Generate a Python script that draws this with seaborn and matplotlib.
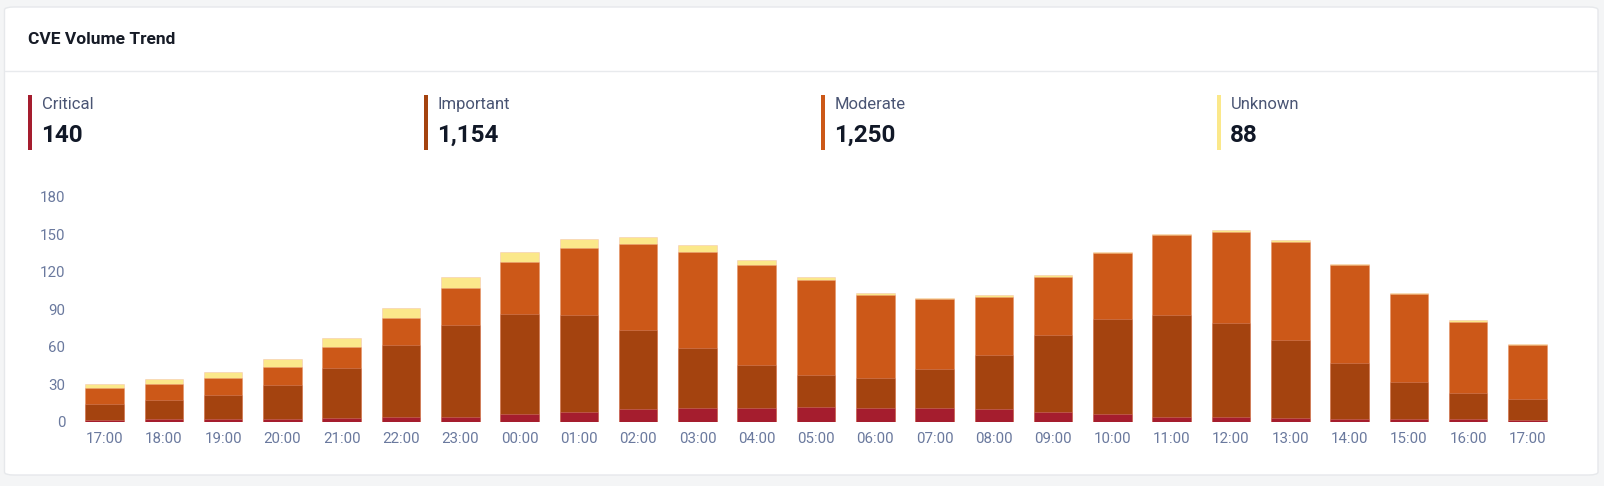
import numpy as np
import pandas as pd
import matplotlib
matplotlib.use("Agg")
import matplotlib.pyplot as plt
from matplotlib.patches import FancyBboxPatch, Rectangle
from matplotlib.lines import Line2D
import seaborn as sns

# ---- data ----
hours = ["17:00", "18:00", "19:00", "20:00", "21:00", "22:00", "23:00", "00:00",
         "01:00", "02:00", "03:00", "04:00", "05:00", "06:00", "07:00", "08:00",
         "09:00", "10:00", "11:00", "12:00", "13:00", "14:00", "15:00", "16:00", "17:00"]
critical  = [1, 2, 2, 2, 3, 4, 4, 6, 8, 10, 11, 11, 12, 11, 11, 10, 8, 6, 4, 4, 3, 2, 2, 2, 1]
important = [13, 15, 19, 27, 40, 57, 73, 80, 77, 63, 48, 34, 25, 24, 31, 43, 61, 76, 81, 75, 62, 45, 30, 21, 17]
moderate  = [13, 13, 14, 15, 17, 22, 30, 42, 54, 69, 77, 80, 76, 66, 56, 47, 47, 53, 64, 73, 79, 78, 70, 57, 43]
unknown   = [3, 4, 5, 6, 7, 8, 9, 8, 7, 6, 5, 4, 3, 2, 1, 1, 1, 1, 1, 1, 1, 1, 1, 1, 1]

series_names = ["Critical", "Important", "Moderate", "Unknown"]
series_totals = ["140", "1,154", "1,250", "88"]
series_colors = ["#A51D2E", "#A4430F", "#CC5818", "#FBE88A"]
y_ticks = [0, 30, 60, 90, 120, 150, 180]

W, H = 1604, 486
sns.set_theme(style="white")
plt.rcParams["font.family"] = ["Roboto", "DejaVu Sans"]

fig = plt.figure(figsize=(W / 100, H / 100), dpi=100)
fig.patch.set_facecolor("#F4F5F6")

def fx(x):
    return x / W

def fy(y):
    return 1 - y / H

# card
card = FancyBboxPatch((fx(4.5), fy(475)), fx(1598) - fx(4.5), fy(7) - fy(475),
                      boxstyle="round,pad=0,rounding_size=0.006",
                      transform=fig.transFigure, facecolor="white",
                      edgecolor="#E6E8EB", linewidth=1.0, zorder=-5)
fig.patches.append(card)
fig.lines.append(Line2D([fx(5), fx(1597)], [fy(71.5), fy(71.5)],
                        transform=fig.transFigure, color="#E8EAED", lw=1.0,
                        zorder=-4))

fig.text(fx(28), fy(39), "CVE Volume Trend", fontsize=12.5, fontweight="bold",
         color="#161B26", va="center", ha="left")

# legend blocks
leg_x = [28, 424, 821, 1217]
for x0, name, tot, col in zip(leg_x, series_names, series_totals, series_colors):
    fig.patches.append(Rectangle((fx(x0), fy(150)), fx(4), fy(95) - fy(150),
                                 transform=fig.transFigure, facecolor=col,
                                 edgecolor="none", zorder=-3))
    fig.text(fx(x0 + 14), fy(104.5), name, fontsize=12, color="#4A5574",
             va="center", ha="left")
    fig.text(fx(x0 + 13), fy(135), tot, fontsize=17.5, fontweight="bold",
             color="#111827", va="center", ha="left")

# chart
ax = fig.add_axes([fx(75), fy(421.7), fx(1557) - fx(75), fy(196.5) - fy(421.7)])
ax.set_facecolor("none")
ax.set_zorder(5)

df = pd.DataFrame({
    "slot": np.arange(len(hours)),
    "Critical": critical,
    "Important": important,
    "Moderate": moderate,
    "Unknown": unknown,
})
df["c1"] = df["Critical"]
df["c2"] = df["c1"] + df["Important"]
df["c3"] = df["c2"] + df["Moderate"]
df["c4"] = df["c3"] + df["Unknown"]

order = list(range(len(hours)))
for col, color in zip(["c4", "c3", "c2", "c1"], series_colors[::-1]):
    sns.barplot(data=df, x="slot", y=col, order=order, color=color,
                saturation=1, width=0.65, ax=ax,
                edgecolor=matplotlib.colors.to_rgba("#F0A898", 0.45),
                linewidth=0.5)

ax.set_ylim(0, 180)
ax.set_xlim(-0.5, len(hours) - 0.5)
ax.set_yticks(y_ticks)
ax.set_yticklabels([str(v) for v in y_ticks])
ax.set_xticks(order)
ax.set_xticklabels(hours)
ax.set_xlabel("")
ax.set_ylabel("")
ax.tick_params(axis="both", length=0, labelsize=10.8, colors="#6A799E")
ax.tick_params(axis="x", pad=7.5)
ax.tick_params(axis="y", pad=7)
for s in ax.spines.values():
    s.set_visible(False)
ax.grid(False)

fig.savefig("out.png", dpi=100, facecolor=fig.get_facecolor())
